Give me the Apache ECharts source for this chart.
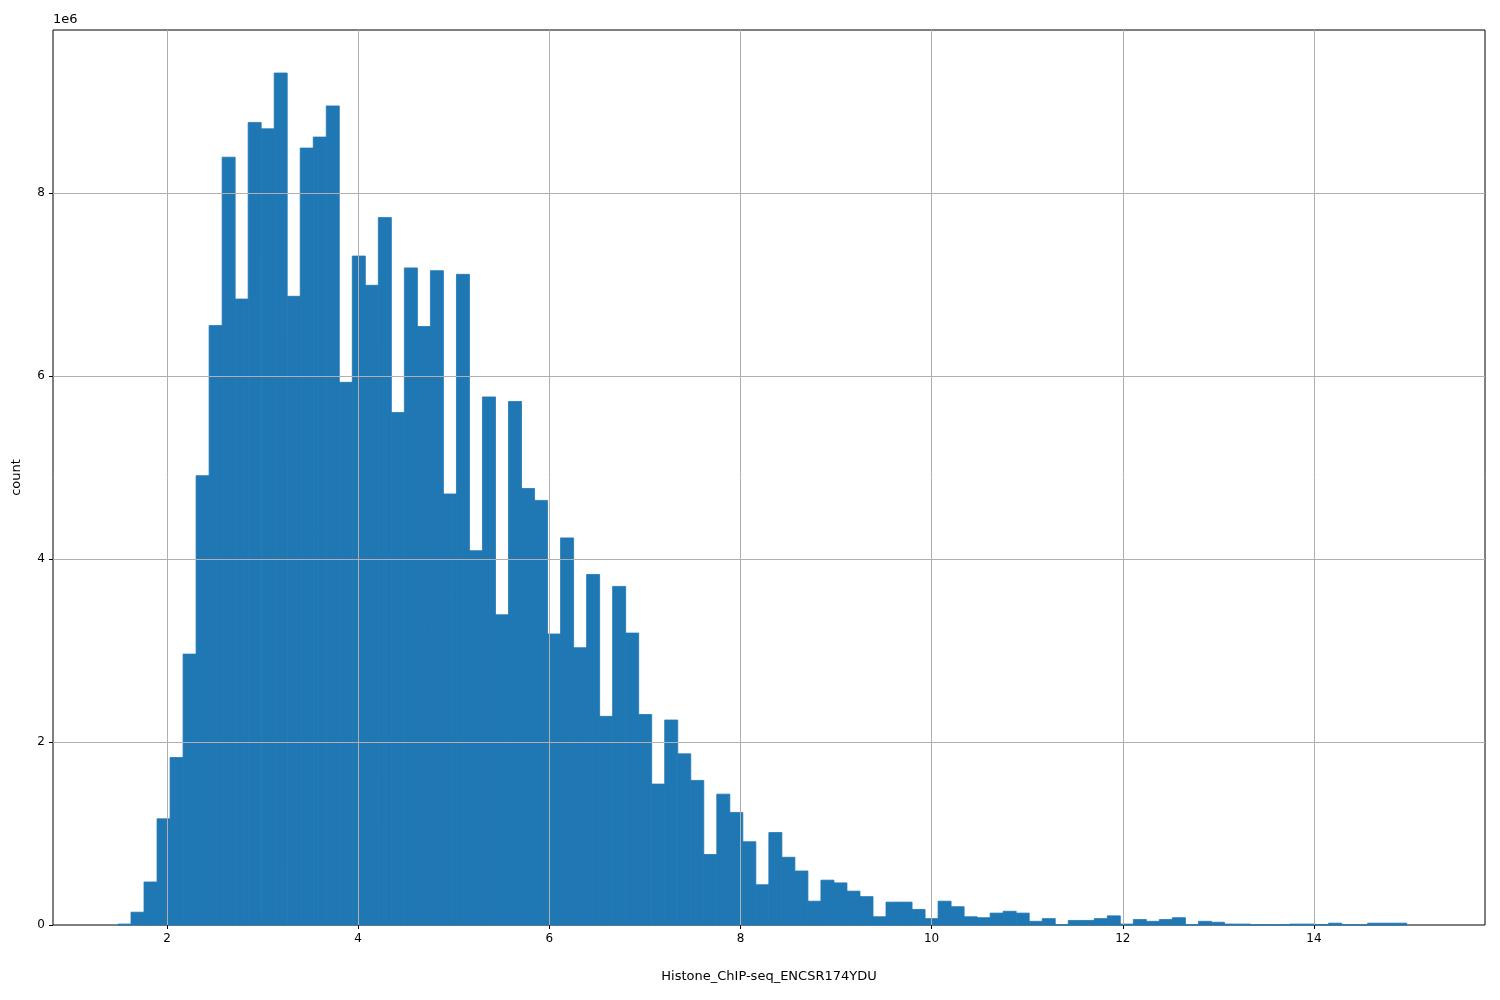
<!DOCTYPE html>
<html><head><meta charset="utf-8">
<script src="https://cdn.jsdelivr.net/npm/echarts@6/dist/echarts.min.js"></script>
<style>html,body{margin:0;padding:0;background:#fff}#c{width:1500px;height:1000px}</style>
</head><body><div id="c"></div>
<script>
const binStart = 1.487;
const binWidth = 0.1362;
const counts = [0.01,0.14,0.47,1.16,1.83,2.96,4.91,6.55,8.39,6.84,
8.77,8.70,9.31,6.87,8.49,8.61,8.95,5.93,7.31,6.99,
7.73,5.60,7.18,6.54,7.15,4.71,7.11,4.09,5.77,3.39,
5.72,4.77,4.64,3.18,4.23,3.03,3.83,2.28,3.70,3.19,
2.30,1.54,2.24,1.87,1.58,0.77,1.43,1.23,0.91,0.44,
1.01,0.74,0.59,0.26,0.49,0.46,0.37,0.31,0.09,0.25,
0.25,0.17,0.07,0.26,0.20,0.09,0.08,0.13,0.15,0.13,
0.04,0.07,0,0.05,0.05,0.07,0.10,0.01,0.06,0.04,
0.06,0.08,0,0.04,0.03,0.01,0.01,0,0,0,
0.01,0.01,0.005,0.02,0,0,0.02,0.02,0.02];
const xTicks = [2,4,6,8,10,12,14];
const yTicks = [0,2,4,6,8];
const data = counts.map((c,i)=>[binStart+i*binWidth, binStart+(i+1)*binWidth, c*1e6]);
const chart = echarts.init(document.getElementById('c'));
chart.setOption({
  animation:false,
  grid:{left:53,right:15,top:30,bottom:75,show:true,borderColor:'#000',borderWidth:1,containLabel:false,outerBoundsMode:'none'},
  xAxis:{type:'value',min:0.807,max:15.79,
    name:'Histone_ChIP-seq_ENCSR174YDU',nameLocation:'middle',nameGap:45,
    nameTextStyle:{fontSize:13,color:'#000',fontFamily:'DejaVu Sans'},
    axisLine:{show:false},splitLine:{show:false},
    axisTick:{show:true,customValues:xTicks,length:4,lineStyle:{color:'#000'}},
    axisLabel:{customValues:xTicks,color:'#000',fontSize:12,fontFamily:'DejaVu Sans',margin:8}},
  yAxis:{type:'value',min:0,max:9.78e6,interval:2e6,
    name:'count',nameLocation:'middle',nameGap:30,nameRotate:90,
    nameTextStyle:{fontSize:13,color:'#000',fontFamily:'DejaVu Sans'},
    axisLine:{show:false},splitLine:{show:false},
    axisTick:{show:true,length:4,lineStyle:{color:'#000'}},
    axisLabel:{formatter:v=>v/1e6,showMaxLabel:false,color:'#000',fontSize:12,fontFamily:'DejaVu Sans'}},
  graphic:[{type:'text',left:53,top:13,style:{text:'1e6',fontSize:13,fill:'#000',fontFamily:'DejaVu Sans'}}],
  series:[{type:'custom',z:2,data:data,encode:{x:[0,1],y:2},
    renderItem:(params,api)=>{
      const p0=api.coord([api.value(0),api.value(2)]);
      const p1=api.coord([api.value(1),0]);
      return {type:'rect',shape:{x:p0[0],y:p0[1],width:p1[0]-p0[0],height:p1[1]-p0[1]},
        style:{fill:'#1f77b4',stroke:'#1f77b4',lineWidth:0.8}};
    }},
  {type:'line',data:[],z:5,markLine:{silent:true,symbol:'none',label:{show:false},
    lineStyle:{color:'#b0b0b0',width:1,type:'solid'},
    data:xTicks.map(v=>({xAxis:v})).concat(yTicks.slice(1).map(v=>({yAxis:v*1e6})))}}]
});
</script></body></html>
